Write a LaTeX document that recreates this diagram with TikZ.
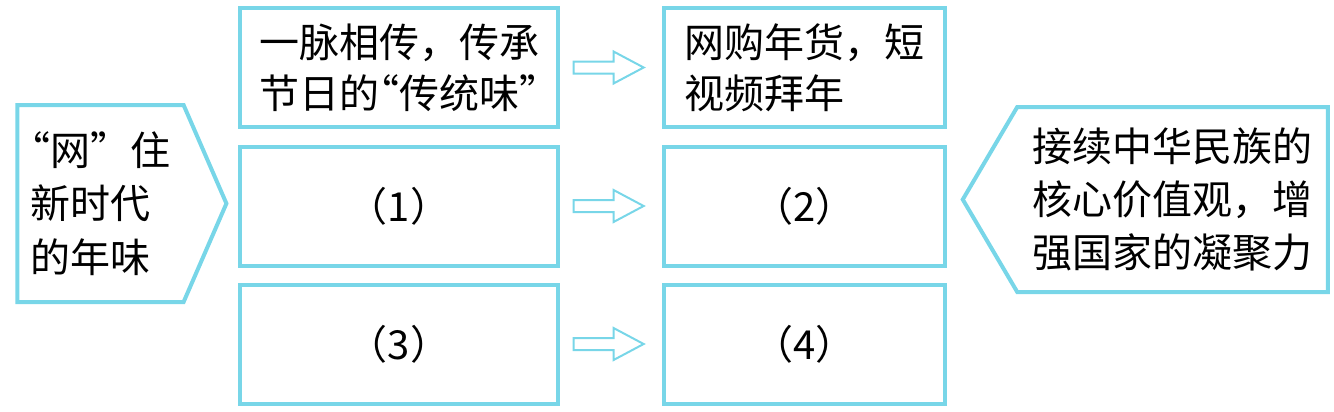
\documentclass[tikz,border=0pt]{standalone}
\usepackage{fontspec}
\setmainfont{Noto Sans CJK SC}
\newfontfamily\halfpunct[RawFeature=+halt]{Noto Sans CJK SC}
\usetikzlibrary{shapes.symbols,shapes.arrows,calc}

\definecolor{boxcyan}{RGB}{120,214,232}
\newcommand{\openq}{{\halfpunct “}}
\newcommand{\closeq}{{\halfpunct ”}}

\begin{document}
\begin{tikzpicture}[x=0.75pt, y=-0.75pt,
    box/.style={draw=boxcyan, line width=3pt, inner sep=0pt, align=left,
      minimum height=89.25pt, font=\fontsize{30pt}{38pt}\selectfont},
    leftbox/.style={box, minimum width=238.5pt},
    rightbox/.style={box, minimum width=210.75pt},
    sidebox/.style={draw=boxcyan, line width=3pt, inner sep=0pt, align=left,
      shape=signal, font=\fontsize{30pt}{40pt}\selectfont},
    hollowarrow/.style={draw=boxcyan, line width=1.5pt, shape=single arrow,
      inner sep=0pt, text height=3.75pt, text depth=3.75pt,
      minimum height=52.5pt, single arrow head extend=7.5pt,
      single arrow tip angle=56, xshift=-6pt}]
  \useasboundingbox (0,0) rectangle (1334,411);
  % left and right side
  \node[sidebox, signal to=east, signal pointer angle=133,
    minimum width=156.75pt, minimum height=147.75pt] (nianwei) at (100.5,203.5)
    {\openq 网”住\\新时代\\的年味};
  \node[sidebox, signal to=west, signal pointer angle=119,
    minimum width=273.75pt, minimum height=138.75pt] (value) at (1172.5,199.5)
    {接续中华民族的\\核心价值观，增\\强国家的凝聚力};
  % middle columns
  \node[leftbox] (tradition) at (399,67.5) {一脉相传，传承\\节日的\openq 传统味\closeq};
  \node[leftbox] (q1) at (399,206) {（1）};
  \node[leftbox] (q3) at (399,344) {（3）};
  \node[rightbox] (online) at (804.5,67.5) {网购年货，短\\视频拜年};
  \node[rightbox] (q2) at (804.5,206) {（2）};
  \node[rightbox] (q4) at (804.5,344) {（4）};
  % arrows
  \node[hollowarrow] (arrA) at ($(tradition.east)!0.5!(online.west)$) {};
  \node[hollowarrow] (arrB) at ($(q1.east)!0.5!(q2.west)$) {};
  \node[hollowarrow] (arrC) at ($(q3.east)!0.5!(q4.west)$) {};
\end{tikzpicture}
\end{document}
